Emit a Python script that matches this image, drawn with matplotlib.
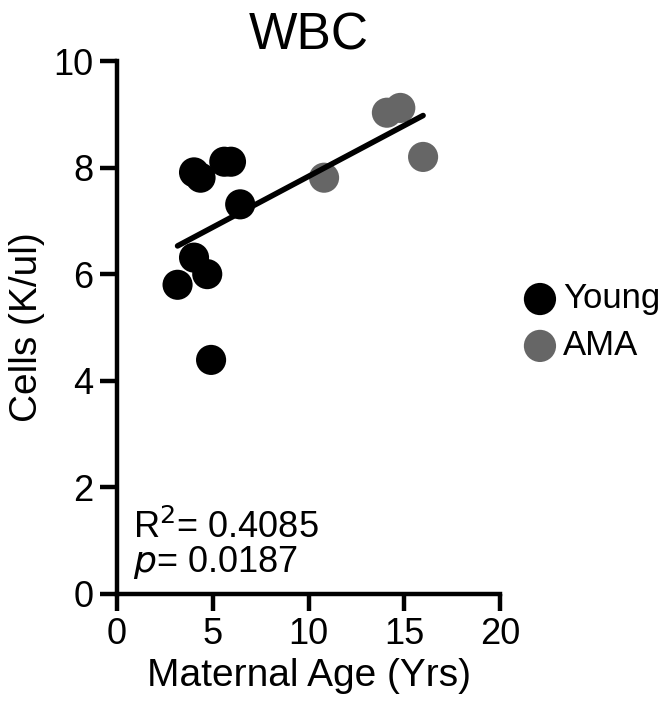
import numpy as np
import matplotlib
matplotlib.use("Agg")
import matplotlib.pyplot as plt

plt.rcParams['font.family'] = ['Liberation Sans', 'DejaVu Sans']

young_age = [3.16, 4.02, 4.36, 5.60, 5.95, 6.43, 4.02, 4.71, 4.91]
young_wbc = [5.80, 7.91, 7.81, 8.11, 8.11, 7.31, 6.31, 6.00, 4.39]
ama_age = [10.81, 14.09, 14.79, 15.98]
ama_wbc = [7.81, 9.03, 9.12, 8.20]
r2_text = "0.4085"
p_text = "0.0187"

fig = plt.figure(figsize=(6.65, 7.18), dpi=100)
ax = fig.add_axes([0.176, 0.173, 0.576, 0.742])

ax.scatter(young_age, young_wbc, s=470, color='black', edgecolors='none', label='Young', zorder=3)
ax.scatter(ama_age, ama_wbc, s=470, color='#666666', edgecolors='none', label='AMA', zorder=3)

all_x = np.array(young_age + ama_age)
all_y = np.array(young_wbc + ama_wbc)
m, b = np.polyfit(all_x, all_y, 1)
xx = np.array([all_x.min(), all_x.max()])
ax.plot(xx, m * xx + b, color='black', lw=4, solid_capstyle='round', zorder=4)

ax.set_xlim(0, 20)
ax.set_ylim(0, 10)
ax.set_xticks([0, 5, 10, 15, 20])
ax.set_yticks([0, 2, 4, 6, 8, 10])
for s in ['top', 'right']:
    ax.spines[s].set_visible(False)
for s in ['left', 'bottom']:
    ax.spines[s].set_linewidth(3.2)
ax.tick_params(width=3.2, length=12, labelsize=26, pad=5)

ax.set_title('WBC', fontsize=37, pad=8)
ax.set_xlabel('Maternal Age (Yrs)', fontsize=28, labelpad=4)
ax.set_ylabel('Cells (K/ul)', fontsize=28, labelpad=6)

ax.text(0.85, 1.05, r'R$^2$= ' + r2_text, fontsize=26, va='baseline', ha='left')
ax.text(0.85, 0.41, r'$\it{p}$= ' + p_text, fontsize=26, va='baseline', ha='left')

ax.legend(loc='center left', bbox_to_anchor=(1.052, 0.51), frameon=False,
          fontsize=25, handlelength=1.15, handletextpad=0.1, labelspacing=0.4,
          markerscale=1.07, borderaxespad=0, borderpad=0)

fig.savefig('out.png', dpi=100)
